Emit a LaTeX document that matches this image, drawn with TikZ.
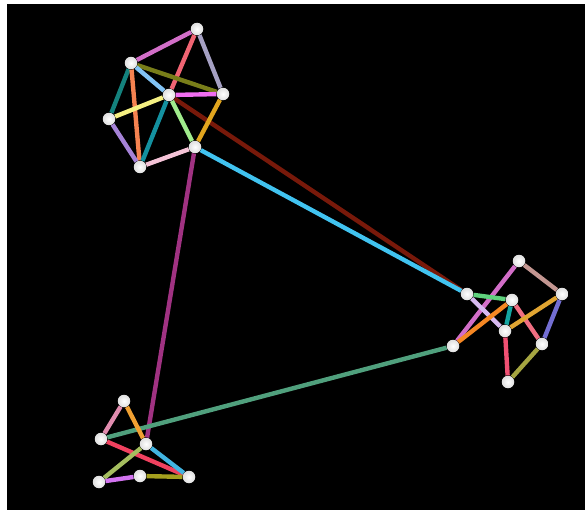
\documentclass[tikz,border=0pt]{standalone}
\begin{document}
\begin{tikzpicture}[x=0.02cm,y=-0.02cm,
    vertex/.style={circle, inner sep=0pt, minimum size=0.25cm, shading=radial, inner color=white, outer color=gray!25},
    edge/.style={line width=2.5pt}]
     % Define colors
        \definecolor{orchidE}{RGB}{210, 110, 200}
        \definecolor{salmonE}{RGB}{240, 100, 115}
        \definecolor{lavgrayE}{RGB}{165, 160, 195}
        \definecolor{oliveE}{RGB}{120, 125, 25}
        \definecolor{skyE}{RGB}{130, 195, 245}
        \definecolor{tealE}{RGB}{20, 130, 125}
        \definecolor{orangeE}{RGB}{245, 130, 80}
        \definecolor{violetE}{RGB}{240, 110, 240}
        \definecolor{yellowE}{RGB}{245, 240, 130}
        \definecolor{tealblueE}{RGB}{20, 145, 160}
        \definecolor{mintE}{RGB}{160, 235, 140}
        \definecolor{darkredE}{RGB}{120, 25, 10}
        \definecolor{goldE}{RGB}{225, 165, 30}
        \definecolor{purpleE}{RGB}{165, 130, 215}
        \definecolor{rosE}{RGB}{245, 195, 215}
        \definecolor{cyanE}{RGB}{65, 195, 240}
        \definecolor{plumE}{RGB}{160, 50, 130}
        \definecolor{tanE}{RGB}{195, 150, 145}
        \definecolor{greenE}{RGB}{95, 210, 125}
        \definecolor{lilacE}{RGB}{215, 185, 240}
        \definecolor{dorangeE}{RGB}{245, 135, 35}
        \definecolor{cyangreenE}{RGB}{20, 165, 160}
        \definecolor{pinkredE}{RGB}{240, 110, 130}
        \definecolor{amberE}{RGB}{225, 165, 50}
        \definecolor{slateE}{RGB}{115, 110, 210}
        \definecolor{rubyE}{RGB}{240, 80, 115}
        \definecolor{khakiE}{RGB}{165, 165, 65}
        \definecolor{seaE}{RGB}{80, 160, 125}
        \definecolor{pinkE}{RGB}{225, 140, 175}
        \definecolor{apricotE}{RGB}{240, 160, 50}
        \definecolor{crimsonE}{RGB}{240, 65, 95}
        \definecolor{azureE}{RGB}{65, 180, 225}
        \definecolor{limeE}{RGB}{165, 190, 95}
        \definecolor{mauveE}{RGB}{210, 115, 240}
        \definecolor{mustardE}{RGB}{165, 160, 30}

        % Frame
        \useasboundingbox (0,0) rectangle (585,510);
        \fill[black] (7,4) rectangle (585,510);

        % Top cluster
        \node[vertex] (t1) at (197,29) {};
        \node[vertex] (t2) at (131,63) {};
        \node[vertex] (t3) at (169,95) {};
        \node[vertex] (t4) at (223,94) {};
        \node[vertex] (t5) at (109,119) {};
        \node[vertex] (t6) at (195,147) {};
        \node[vertex] (t7) at (140,167) {};

        % Right cluster
        \node[vertex] (r1) at (519,261) {};
        \node[vertex] (r2) at (467,294) {};
        \node[vertex] (r3) at (512,300) {};
        \node[vertex] (r4) at (562,294) {};
        \node[vertex] (r5) at (505,331) {};
        \node[vertex] (r6) at (542,344) {};
        \node[vertex] (r7) at (453,346) {};
        \node[vertex] (r8) at (508,382) {};

        % Bottom cluster
        \node[vertex] (b1) at (124,401) {};
        \node[vertex] (b2) at (101,439) {};
        \node[vertex] (b3) at (146,444) {};
        \node[vertex] (b4) at (99,482) {};
        \node[vertex] (b5) at (140,476) {};
        \node[vertex] (b6) at (189,477) {};

        % Long links between clusters
        \draw[edge, darkredE] (t3) -- (r2);
        \draw[edge, cyanE] (t6) -- (r2);
        \draw[edge, plumE] (t6) -- (b3);
        \draw[edge, seaE] (r7) -- (b2);

        % Top cluster edges
        \draw[edge, orchidE] (t1) -- (t2);
        \draw[edge, salmonE] (t1) -- (t3);
        \draw[edge, lavgrayE] (t1) -- (t4);
        \draw[edge, oliveE] (t2) -- (t4);
        \draw[edge, skyE] (t2) -- (t3);
        \draw[edge, tealE] (t2) -- (t5);
        \draw[edge, orangeE] (t2) -- (t7);
        \draw[edge, violetE] (t3) -- (t4);
        \draw[edge, yellowE] (t3) -- (t5);
        \draw[edge, tealblueE] (t3) -- (t7);
        \draw[edge, mintE] (t3) -- (t6);
        \draw[edge, goldE] (t4) -- (t6);
        \draw[edge, purpleE] (t5) -- (t7);
        \draw[edge, rosE] (t7) -- (t6);

        % Right cluster edges
        \draw[edge, tanE] (r1) -- (r4);
        \draw[edge, orchidE] (r1) -- (r7);
        \draw[edge, greenE] (r2) -- (r3);
        \draw[edge, lilacE] (r2) -- (r5);
        \draw[edge, dorangeE] (r3) -- (r7);
        \draw[edge, cyangreenE] (r3) -- (r5);
        \draw[edge, pinkredE] (r3) -- (r6);
        \draw[edge, amberE] (r5) -- (r4);
        \draw[edge, slateE] (r4) -- (r6);
        \draw[edge, rubyE] (r5) -- (r8);
        \draw[edge, khakiE] (r6) -- (r8);

        % Bottom cluster edges
        \draw[edge, pinkE] (b1) -- (b2);
        \draw[edge, apricotE] (b1) -- (b3);
        \draw[edge, crimsonE] (b2) -- (b6);
        \draw[edge, azureE] (b3) -- (b6);
        \draw[edge, limeE] (b3) -- (b4);
        \draw[edge, mauveE] (b4) -- (b5);
        \draw[edge, mustardE] (b5) -- (b6);
\end{tikzpicture}
\end{document}
